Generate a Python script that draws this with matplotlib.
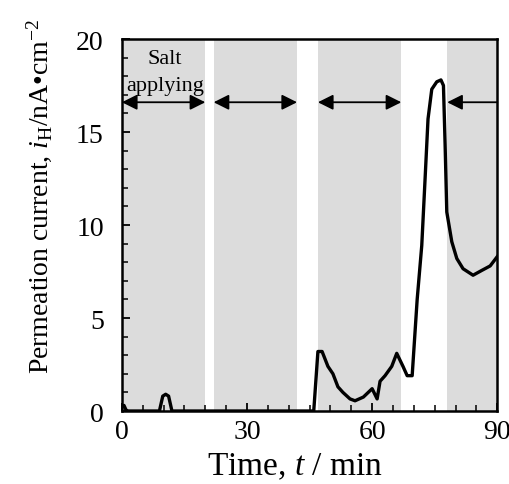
import matplotlib
matplotlib.use("Agg")
import matplotlib.pyplot as plt
from matplotlib.ticker import MultipleLocator

plt.rcParams['font.family'] = ['Liberation Serif', 'DejaVu Serif']
plt.rcParams['mathtext.fontset'] = 'custom'
plt.rcParams['mathtext.rm'] = 'Liberation Serif'
plt.rcParams['mathtext.it'] = 'Liberation Serif:italic'

# Data
time_min = [0, 0.5, 1, 1.5, 9, 9.8, 10.5, 11.2, 12, 46, 47, 48, 49.4, 50.6, 51.8, 53,
            54.7, 55.9, 57.9, 60, 61.2, 61.9, 63.1, 64.7, 65.9, 67.4, 68.4, 69.6,
            70.8, 71.9, 72.7, 73.4, 74.3, 75.5, 76.5, 77.1, 77.5, 77.9, 79.1, 80.3,
            81.8, 84.2, 86.3, 88.3, 90]
current = [0.25, 0.3, 0.05, 0, 0, 0.8, 0.9, 0.8, 0, 0, 3.2, 3.2, 2.4, 2.0, 1.3, 1.0,
           0.65, 0.55, 0.75, 1.2, 0.65, 1.6, 1.9, 2.4, 3.1, 2.4, 1.9, 1.9,
           6.0, 8.9, 12.5, 15.7, 17.3, 17.7, 17.8, 17.5, 14.3, 10.7, 9.1, 8.2,
           7.65, 7.3, 7.56, 7.8, 8.3]
salt_starts = [0, 22, 47, 78]
salt_ends = [20, 42, 67, 90]
arrow_level = 16.6
xticks = [0, 30, 60, 90]
yticks = [0, 5, 10, 15, 20]

fig = plt.figure(figsize=(5.1, 4.85), dpi=100)
ax = fig.add_axes([0.239, 0.1505, 0.736, 0.767])

for s, e in zip(salt_starts, salt_ends):
    ax.axvspan(s, e, color='#dcdcdc', lw=0, zorder=0)

for k, (s, e) in enumerate(zip(salt_starts, salt_ends)):
    style = '<|-|>' if k < len(salt_starts) - 1 else '<|-'
    ax.annotate('', xy=(e, arrow_level), xytext=(s, arrow_level),
                arrowprops=dict(arrowstyle=style, color='black', lw=1.3,
                                mutation_scale=23, shrinkA=0, shrinkB=0),
                annotation_clip=False, zorder=3)

ax.text(10.3, 18.7, 'Salt', ha='center', va='baseline', fontsize=16, zorder=4)
ax.text(10.3, 17.25, 'applying', ha='center', va='baseline', fontsize=16, zorder=4)

ax.plot(time_min, current, color='black', lw=2.4, zorder=5, solid_joinstyle='round')

ax.set_xlim(0, 90)
ax.set_ylim(0, 20)
ax.set_xticks(xticks)
ax.set_yticks(yticks)
ax.xaxis.set_minor_locator(MultipleLocator(5))
ax.yaxis.set_minor_locator(MultipleLocator(1))
ax.tick_params(which='both', direction='in', top=False, right=False, labelsize=20)
ax.tick_params(which='major', length=6, width=1.3)
ax.tick_params(which='minor', length=4, width=1.1)
ax.tick_params(axis='x', pad=6)
ax.tick_params(axis='y', pad=13)
for sp in ax.spines.values():
    sp.set_linewidth(1.8)

ax.set_xlabel('Time, $t$ / min', fontsize=24)
ax.xaxis.set_label_coords(0.461, -0.108)
ax.set_ylabel('Permeation current, $i_{\\mathrm{H}}$/nA\u2022cm$^{-2}$', fontsize=20)
ax.yaxis.set_label_coords(-0.18, 0.58)

fig.savefig('out.png', dpi=100)
